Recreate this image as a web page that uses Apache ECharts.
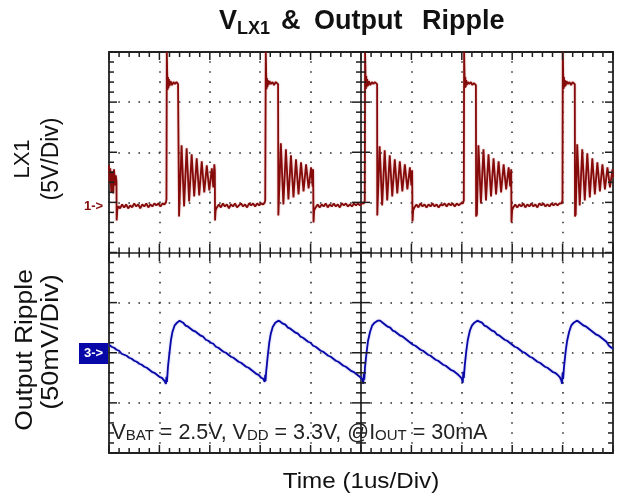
<!DOCTYPE html>
<html><head><meta charset="utf-8">
<script src="https://cdn.jsdelivr.net/npm/echarts@6/dist/echarts.min.js"></script>
<style>html,body{margin:0;padding:0;background:#fff}#c{width:622px;height:503px}</style>
</head><body><div id="c"></div>
<script>
// ---- scales (oscilloscope settings) ----
const timeRange = [0, 10];          // us, 1 us/div
const divRange = [-4, 4];           // vertical divisions
const lx1Range = [-24.7, 15.3];     // V, 5 V/div, ch1 marker = 0 V
const rippleRange = [-100, 300];    // mV, 50 mV/div, ch3 marker = 0 mV

// ---- channel 1: LX1 voltage [time us, volts] ----
const lx1Trace = [
 [0.000,4.0],[0.012,2.2],[0.025,3.7],[0.045,1.3],[0.065,3.4],[0.085,1.2],[0.10,3.6],[0.12,2.0],[0.135,3.0],[0.148,2.4],[0.152,-1.5],[0.165,-0.4],[0.19,-0.1],
 [0.22,-0.3],[0.26,0.1],[0.30,-0.2],[0.34,0.1],[0.38,-0.3],[0.42,0.0],[0.46,-0.2],[0.50,0.2],[0.54,-0.1],[0.58,0.1],[0.62,-0.3],[0.66,0.1],[0.70,-0.1],[0.74,0.2],[0.78,-0.2],[0.82,0.1],[0.86,-0.1],[0.90,0.2],[0.94,0.0],[0.98,0.2],[1.02,-0.1],[1.06,0.2],[1.10,0.1],[1.13,0.3],[1.14,0.6],
 [1.147,15.3],[1.155,13.2],[1.162,11.5],[1.170,12.8],[1.178,11.7],[1.188,12.6],[1.20,11.9],[1.22,12.4],[1.25,12.0],[1.28,12.3],[1.31,12.1],[1.34,12.3],[1.37,12.1],[1.385,12.2],
 [1.39,-1.1],[1.41,-1.0],[1.44,6.0],[1.49,-0.1],[1.54,5.7],[1.59,0.4],[1.64,5.1],[1.69,0.9],[1.74,4.7],[1.79,1.0],[1.84,4.4],[1.89,1.3],[1.94,4.0],[1.99,1.5],[2.04,3.7],[2.07,1.8],[2.09,4.1],[2.10,3.4],
 [2.104,-1.5],[2.115,-0.5],[2.14,-0.2],
 [2.18,0.1],[2.22,-0.2],[2.26,0.2],[2.30,-0.1],[2.34,0.1],[2.38,-0.3],[2.42,0.1],[2.46,-0.1],[2.50,0.2],[2.54,-0.2],[2.58,0.0],[2.62,0.2],[2.66,-0.1],[2.70,0.1],[2.74,-0.2],[2.78,0.2],[2.82,0.0],[2.86,0.2],[2.90,-0.1],[2.94,0.2],[2.98,0.0],[3.02,0.2],[3.06,0.1],[3.09,0.3],[3.10,0.5],
 [3.111,15.3],[3.119,13.0],[3.126,11.6],[3.134,12.7],[3.142,11.8],[3.152,12.5],[3.165,12.0],[3.185,12.4],[3.215,12.1],[3.245,12.3],[3.275,12.0],[3.305,12.3],[3.335,12.2],[3.355,12.1],
 [3.36,-1.0],[3.38,-0.9],[3.41,6.2],[3.46,0.1],[3.51,5.6],[3.56,0.6],[3.61,5.0],[3.66,0.8],[3.71,4.6],[3.76,1.1],[3.81,4.3],[3.86,1.4],[3.91,4.1],[3.96,1.7],[4.01,3.8],[4.04,1.9],[4.05,3.6],
 [4.058,-1.7],[4.07,-0.5],[4.10,-0.2],
 [4.14,0.1],[4.18,-0.2],[4.22,0.1],[4.26,-0.1],[4.30,0.2],[4.34,-0.2],[4.38,0.1],[4.42,-0.1],[4.46,0.2],[4.50,-0.1],[4.54,0.1],[4.58,-0.2],[4.62,0.2],[4.66,0.0],[4.70,0.2],[4.74,-0.1],[4.78,0.1],[4.82,-0.1],[4.86,0.2],[4.90,0.0],[4.94,0.2],[4.98,0.0],[5.02,0.2],[5.06,0.2],[5.075,0.5],
 [5.081,15.3],[5.089,13.1],[5.096,11.6],[5.104,12.9],[5.112,11.8],[5.122,12.6],[5.135,11.9],[5.155,12.4],[5.185,12.0],[5.215,12.3],[5.245,12.1],[5.275,12.3],[5.30,12.2],[5.32,12.1],
 [5.323,-1.0],[5.34,-0.9],[5.37,5.9],[5.42,0.0],[5.47,5.5],[5.52,0.5],[5.57,5.0],[5.62,0.9],[5.67,4.6],[5.72,1.2],[5.77,4.4],[5.82,1.4],[5.87,4.1],[5.92,1.6],[5.97,3.8],[6.00,2.0],[6.015,3.5],
 [6.022,-1.6],[6.035,-0.5],[6.06,-0.2],
 [6.10,0.1],[6.14,-0.2],[6.18,0.2],[6.22,-0.1],[6.26,0.1],[6.30,-0.2],[6.34,0.1],[6.38,-0.1],[6.42,0.2],[6.46,-0.1],[6.50,0.1],[6.54,-0.2],[6.58,0.1],[6.62,0.0],[6.66,0.2],[6.70,-0.1],[6.74,0.2],[6.78,0.0],[6.82,0.2],[6.86,-0.1],[6.90,0.2],[6.94,0.0],[6.98,0.2],[7.02,0.2],[7.04,0.5],
 [7.046,15.3],[7.054,13.0],[7.061,11.7],[7.069,12.8],[7.077,11.8],[7.087,12.5],[7.10,12.0],[7.12,12.3],[7.15,12.1],[7.18,12.3],[7.21,12.0],[7.24,12.2],[7.265,12.1],[7.28,12.0],
 [7.284,-1.1],[7.30,-0.9],[7.33,6.0],[7.38,0.2],[7.43,5.6],[7.48,0.5],[7.53,5.1],[7.58,0.9],[7.63,4.7],[7.68,1.1],[7.73,4.4],[7.78,1.3],[7.83,4.1],[7.88,1.6],[7.93,3.8],[7.96,1.9],[7.98,3.6],
 [7.986,-1.7],[7.998,-0.5],[8.02,-0.2],
 [8.06,0.1],[8.10,-0.2],[8.14,0.1],[8.18,-0.1],[8.22,0.2],[8.26,-0.2],[8.30,0.1],[8.34,-0.1],[8.38,0.2],[8.42,-0.1],[8.46,0.1],[8.50,-0.2],[8.54,0.2],[8.58,0.0],[8.62,0.2],[8.66,-0.1],[8.70,0.1],[8.74,-0.1],[8.78,0.2],[8.82,0.0],[8.86,0.2],[8.90,0.0],[8.94,0.2],[8.98,0.2],[8.998,0.5],
 [9.004,15.3],[9.012,13.1],[9.019,11.6],[9.027,12.8],[9.035,11.8],[9.045,12.5],[9.058,11.9],[9.078,12.4],[9.108,12.1],[9.138,12.3],[9.168,12.0],[9.198,12.3],[9.225,12.2],[9.242,12.1],
 [9.246,-1.1],[9.26,-0.9],[9.29,6.1],[9.34,0.0],[9.39,5.6],[9.44,0.5],[9.49,5.2],[9.54,0.8],[9.59,4.7],[9.64,1.1],[9.69,4.3],[9.74,1.4],[9.79,4.1],[9.84,1.6],[9.89,3.8],[9.94,1.8],[9.99,3.6],[10.0,2.8]
];

// ---- channel 3: output ripple [time us, mV] ----
const rippleTrace = [
 [0.00,8],[0.05,6],[0.10,5],[0.15,3],[0.20,2],[0.25,-1],[0.30,-2],[0.35,-3],[0.40,-5],[0.45,-6],[0.50,-8],[0.55,-9],[0.60,-11],[0.65,-12],[0.70,-14],[0.75,-15],[0.80,-17],[0.85,-19],[0.90,-20],[0.95,-22],[1.00,-24],[1.05,-25],[1.10,-28],[1.13,-31],
 [1.14,-24],[1.15,-29],[1.17,-14],[1.20,0],[1.23,13],[1.26,21],[1.30,27],[1.35,30],[1.40,32],[1.43,31],
 [1.47,30],[1.52,27],[1.57,26],[1.62,24],[1.67,22],[1.72,21],[1.77,19],[1.82,17],[1.87,16],[1.92,13],[1.97,12],[2.02,10],[2.07,9],[2.12,6],[2.17,5],[2.22,3],[2.27,1],[2.32,0],[2.37,-2],[2.42,-4],[2.47,-5],[2.52,-7],[2.57,-9],[2.62,-10],[2.67,-12],[2.72,-14],[2.77,-15],[2.82,-17],[2.87,-19],[2.92,-21],[2.97,-22],[3.02,-25],[3.06,-26],[3.09,-29],
 [3.10,-22],[3.105,-28],[3.12,-18],[3.15,-3],[3.18,10],[3.21,19],[3.25,26],[3.30,30],[3.36,32],[3.40,31],
 [3.45,29],[3.50,28],[3.55,25],[3.60,24],[3.65,22],[3.70,20],[3.75,19],[3.80,16],[3.85,15],[3.90,13],[3.95,11],[4.00,10],[4.05,7],[4.10,6],[4.15,4],[4.20,2],[4.25,1],[4.30,-1],[4.35,-3],[4.40,-4],[4.45,-6],[4.50,-8],[4.55,-9],[4.60,-11],[4.65,-13],[4.70,-14],[4.75,-16],[4.80,-18],[4.85,-19],[4.90,-21],[4.95,-23],[5.00,-25],[5.03,-27],[5.045,-31],
 [5.055,-21],[5.065,-27],[5.08,-14],[5.11,0],[5.14,12],[5.18,21],[5.22,27],[5.27,30],[5.33,32],[5.38,32],
 [5.43,30],[5.48,28],[5.53,26],[5.58,25],[5.63,22],[5.68,21],[5.73,19],[5.78,17],[5.83,16],[5.88,14],[5.93,12],[5.98,10],[6.03,8],[6.08,7],[6.13,5],[6.18,3],[6.23,2],[6.28,0],[6.33,-2],[6.38,-3],[6.43,-5],[6.48,-7],[6.53,-8],[6.58,-10],[6.63,-12],[6.68,-13],[6.73,-15],[6.78,-17],[6.83,-18],[6.88,-20],[6.93,-22],[6.97,-24],[7.00,-26],[7.02,-30],
 [7.03,-19],[7.04,-25],[7.06,-12],[7.09,2],[7.12,13],[7.16,22],[7.20,27],[7.25,30],[7.31,32],[7.35,31],
 [7.40,30],[7.45,27],[7.50,26],[7.55,24],[7.60,22],[7.65,21],[7.70,18],[7.75,17],[7.80,15],[7.85,13],[7.90,12],[7.95,10],[8.00,8],[8.05,6],[8.10,5],[8.15,3],[8.20,1],[8.25,0],[8.30,-2],[8.35,-4],[8.40,-5],[8.45,-7],[8.50,-9],[8.55,-10],[8.60,-12],[8.65,-14],[8.70,-15],[8.75,-17],[8.80,-19],[8.85,-20],[8.90,-22],[8.94,-24],[8.97,-27],[8.99,-31],
 [9.00,-20],[9.01,-26],[9.03,-13],[9.06,1],[9.09,12],[9.13,21],[9.17,27],[9.22,30],[9.28,32],[9.32,31],
 [9.37,29],[9.42,27],[9.47,26],[9.52,24],[9.57,22],[9.62,20],[9.67,18],[9.72,17],[9.77,15],[9.82,13],[9.87,11],[9.92,7],[9.97,5],[10.0,4]
];

// ---- texts ----
const titleWords = ['V', 'LX1', '&', 'Output', 'Ripple'];
const lx1Label = ['LX1', '(5V/Div)'];
const rippleLabel = ['Output Ripple', '(50mV/Div)'];
const xAxisTitle = 'Time (1us/Div)';
const noteParts = [['V',21.5],['BAT',15],[' = 2.5V, V',21.5],['DD',15],[' = 3.3V, @I',21.5],['OUT',15],[' = 30mA',21.5]];
const ch1Marker = '1->';
const ch3Marker = '3->';

// ---- layout ----
const G = {left:109, top:52, width:504, height:401};
const FAM = '"Liberation Sans", Arial, Helvetica, sans-serif';
const INK = '#222';
const RED = '#850a0a';
const BLUE = '#0808a8';

const mctx = document.createElement('canvas').getContext('2d');
function measure(t, font){ mctx.font = font; return mctx.measureText(t).width; }
// text group: local origin at (start or center, baseline); parts [text, size, dy, absX]
function textGroup(parts, opt){
  const weight = opt.weight || 'normal';
  let w = 0; const items = [];
  parts.forEach(p => { const font = `${weight} ${p[1]}px ${FAM}`; const x = (p[3] != null) ? p[3] : w; items.push({t:p[0], s:p[1], dy:p[2]||0, font, x}); w = x + measure(p[0], font); });
  const x0 = opt.align === 'center' ? -w/2 : 0;
  const z = opt.z || 100;
  const children = items.map(it => ({type:'text', x:x0+it.x, y:it.dy - 0.35*it.s, z,
    style:{text:it.t, font:it.font, fill:opt.color||'#111', textAlign:'left', textVerticalAlign:'middle', verticalAlign:'middle'}}));
  return {type:'group', x:opt.x, y:opt.y, rotation:opt.rotation||0, scaleX:opt.sx||1, children, z};
}

const dotted = (period) => ({show:true, lineStyle:{color:'#2a2a2a', width:1.5, type:[1.6, period-1.6], dashOffset:0.8}});

const chart = echarts.init(document.getElementById('c'), null, {renderer:'canvas'});
chart.setOption({
  animation:false,
  backgroundColor:'#fff',
  grid:{left:G.left, top:G.top, width:G.width, height:G.height, show:true, borderColor:INK, borderWidth:1.8, backgroundColor:'transparent', containLabel:false, outerBoundsMode:'none'},
  xAxis:[
    {type:'value', position:'bottom', min:timeRange[0], max:timeRange[1], interval:1,
     axisLine:{show:false, onZero:false}, axisTick:{show:false}, axisLabel:{show:false}, splitLine:dotted(G.height/40)},
    {type:'value', position:'top', min:-5, max:5, interval:1,
     axisLine:{show:true, onZero:true, onZeroAxisIndex:0, lineStyle:{color:INK, width:1.7}}, axisTick:{show:false}, axisLabel:{show:false}, splitLine:{show:false}}
  ],
  yAxis:[
    {type:'value', position:'left', min:divRange[0], max:divRange[1], interval:1,
     axisLine:{show:false, onZero:false}, axisTick:{show:false}, axisLabel:{show:false}, splitLine:dotted(G.width/50)},
    {type:'value', position:'right', min:divRange[0], max:divRange[1], interval:1,
     axisLine:{show:true, onZero:true, onZeroAxisIndex:1, lineStyle:{color:INK, width:1.7}}, axisTick:{show:false}, axisLabel:{show:false}, splitLine:{show:false}},
    {type:'value', show:false, min:lx1Range[0], max:lx1Range[1], axisLine:{onZero:false}},
    {type:'value', show:false, min:rippleRange[0], max:rippleRange[1], axisLine:{onZero:false}}
  ],
  series:[
    {type:'line', name:'LX1', xAxisIndex:0, yAxisIndex:2, data:lx1Trace, showSymbol:false, symbol:'none',
     lineStyle:{color:RED, width:1.8, shadowColor:'rgba(200,90,90,0.55)', shadowBlur:2}, z:10, clip:true},
    {type:'line', name:'Output Ripple', xAxisIndex:0, yAxisIndex:3, data:rippleTrace, showSymbol:false, symbol:'none',
     lineStyle:{color:BLUE, width:1.8, shadowColor:'rgba(90,90,220,0.5)', shadowBlur:2}, z:10, clip:true}
  ]
});

// ---- graticule tick marks, positioned through the axes' scales ----
function toPx(dim, v){
  let p = null;
  try { p = chart.convertToPixel(dim === 'x' ? {xAxisIndex:0} : {yAxisIndex:0}, v); } catch (e) { p = null; }
  if (Array.isArray(p)) p = dim === 'x' ? p[0] : p[1];
  if (typeof p !== 'number' || !isFinite(p)) {
    const r = dim === 'x' ? timeRange : divRange;
    p = dim === 'x' ? G.left + (v - r[0]) / (r[1] - r[0]) * G.width
                    : G.top + G.height - (v - r[0]) / (r[1] - r[0]) * G.height;
  }
  return p;
}
const ticks = [];
function seg(x1, y1, x2, y2){ ticks.push({type:'line', shape:{x1:x1, y1:y1, x2:x2, y2:y2}, style:{stroke:'#1e1e1e', lineWidth:1.5, fill:null}, z:50}); }
const yTop = toPx('y', divRange[1]), yBot = toPx('y', divRange[0]), yMid = toPx('y', 0);
const xLeft = toPx('x', timeRange[0]), xRight = toPx('x', timeRange[1]), xMid = toPx('x', 5);
for (let i = 0; i <= 50; i++) {
  const x = toPx('x', i / 5);
  const major = i % 5 === 0, len = major ? 8 : 5, clen = major ? 9 : 5;
  seg(x, yTop, x, yTop + len);
  seg(x, yBot - len, x, yBot);
  seg(x, yMid - clen, x, yMid + clen);
}
for (let i = 0; i <= 40; i++) {
  const y = toPx('y', divRange[0] + i / 5);
  const major = i % 5 === 0, len = major ? 8 : 5, clen = major ? 9 : 5;
  seg(xLeft, y, xLeft + len, y);
  seg(xRight - len, y, xRight, y);
  seg(xMid - clen, y, xMid + clen, y);
}

chart.setOption({
  graphic: [
    {type:'group', z:50, children:ticks},
    textGroup([[titleWords[0],27,0,0],[titleWords[1],18,4,18],[titleWords[2],27,0,62],[titleWords[3],27,0,95],[titleWords[4],27,0,203]], {x:219, y:31, align:'left', weight:'bold', color:'#111'}),
    textGroup([[lx1Label[0],22]], {x:31, y:159, align:'center', rotation:Math.PI/2}),
    textGroup([[lx1Label[1],23]], {x:60, y:159, align:'center', rotation:Math.PI/2}),
    textGroup([[rippleLabel[0],23]], {x:34, y:350, align:'center', rotation:Math.PI/2, sx:1.15}),
    textGroup([[rippleLabel[1],23]], {x:60, y:342, align:'center', rotation:Math.PI/2, sx:1.18}),
    textGroup([[xAxisTitle,22]], {x:361, y:490, align:'center', sx:1.1}),
    textGroup(noteParts, {x:111.5, y:441, align:'left', color:'#222'}),
    textGroup([[ch1Marker,13]], {x:84, y:211, align:'left', weight:'bold', color:RED}),
    {type:'rect', shape:{x:79, y:343, width:29, height:21}, style:{fill:BLUE}, z:100},
    textGroup([[ch3Marker,13]], {x:84, y:358, align:'left', weight:'bold', color:'#fff', z:110})
  ]
});
</script></body></html>
